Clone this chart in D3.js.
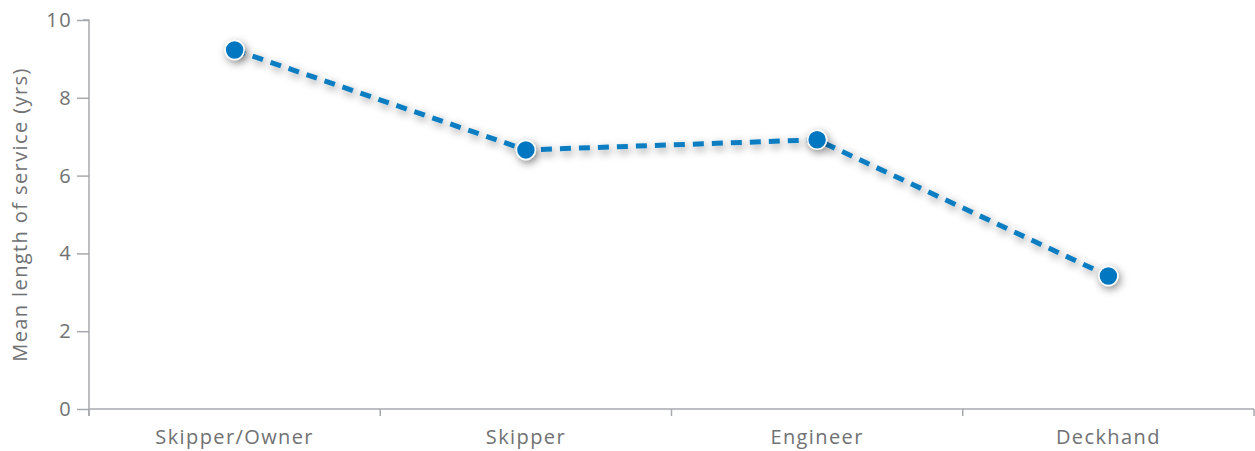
<!DOCTYPE html>
<html>
<head>
<meta charset="utf-8">
<script src="https://cdn.jsdelivr.net/npm/d3@7"></script>
<style>
  body { margin: 0; background: #fff; }
  text { font-family: "Open Sans", sans-serif; fill: #707173; letter-spacing: 1.4px; }
</style>
</head>
<body>
<div id="chart"></div>
<script>
var categories = ["Skipper/Owner", "Skipper", "Engineer", "Deckhand"];
var values = [9.23, 6.66, 6.92, 3.42];
var yTicks = [0, 2, 4, 6, 8, 10];

var width = 1255, height = 451;
var margin = {top: 20, right: 1, bottom: 42, left: 89};

var svg = d3.select("#chart").append("svg")
    .attr("width", width)
    .attr("height", height);

var defs = svg.append("defs");
var shadow = defs.append("filter").attr("id", "shadow")
    .attr("x", "-100%").attr("y", "-100%").attr("width", "300%").attr("height", "300%");
shadow.append("feDropShadow")
    .attr("dx", 2).attr("dy", 3).attr("stdDeviation", 4)
    .attr("flood-color", "#000").attr("flood-opacity", 0.45);

var x = d3.scaleBand()
    .domain(categories)
    .range([margin.left, width - margin.right]);

var y = d3.scaleLinear()
    .domain([0, 10])
    .range([height - margin.bottom, margin.top]);

var data = categories.map(function(c, i) { return {cat: c, value: values[i]}; });

// x axis
var xAxis = svg.append("g")
    .attr("transform", "translate(0," + y(0) + ")");
xAxis.append("line")
    .attr("x1", margin.left).attr("x2", width - margin.right)
    .attr("stroke", "#a7a9ac").attr("stroke-width", 1.5);
var edges = categories.map(function(c) { return x(c); }).concat([width - margin.right]);
xAxis.selectAll(".xtick").data(edges).enter().append("line")
    .attr("x1", function(d) { return d; }).attr("x2", function(d) { return d; })
    .attr("y1", 0).attr("y2", 7)
    .attr("stroke", "#a7a9ac").attr("stroke-width", 1.5);
xAxis.selectAll(".xlabel").data(categories).enter().append("text")
    .attr("x", function(d) { return x(d) + x.bandwidth() / 2; })
    .attr("y", 35)
    .attr("text-anchor", "middle")
    .attr("font-size", 20)
    .text(function(d) { return d; });

// y axis
var yAxis = svg.append("g")
    .attr("transform", "translate(" + margin.left + ",0)")
    .call(d3.axisLeft(y).tickValues(yTicks).tickSize(12).tickPadding(5));
yAxis.select(".domain").attr("stroke", "#a7a9ac").attr("stroke-width", 1.5)
    .attr("d", "M-6," + y(10) + "H0V" + (y(0) + 7));
yAxis.selectAll(".tick line").attr("stroke", "#a7a9ac").attr("stroke-width", 1.5);
yAxis.selectAll(".tick text")
    .attr("font-size", 20)
    .attr("font-family", "Open Sans, sans-serif")
    .attr("fill", "#707173");

svg.append("text")
    .attr("transform", "translate(27," + ((y(0) + y(10)) / 2) + ") rotate(-90)")
    .attr("text-anchor", "middle")
    .attr("font-size", 20)
    .text("Mean length of service (yrs)");

// line
var line = d3.line()
    .x(function(d) { return x(d.cat) + x.bandwidth() / 2; })
    .y(function(d) { return y(d.value); });

svg.append("path")
    .datum(data)
    .attr("d", line)
    .attr("fill", "none")
    .attr("stroke", "#0a7dc2")
    .attr("stroke-width", 5)
    .attr("stroke-dasharray", "11,8")
    .attr("filter", "url(#shadow)");

svg.selectAll(".dot").data(data).enter().append("circle")
    .attr("cx", function(d) { return x(d.cat) + x.bandwidth() / 2; })
    .attr("cy", function(d) { return y(d.value); })
    .attr("r", 9.5)
    .attr("fill", "#0077c0")
    .attr("stroke", "#fff")
    .attr("stroke-width", 1.5)
    .attr("filter", "url(#shadow)");
</script>
</body>
</html>
